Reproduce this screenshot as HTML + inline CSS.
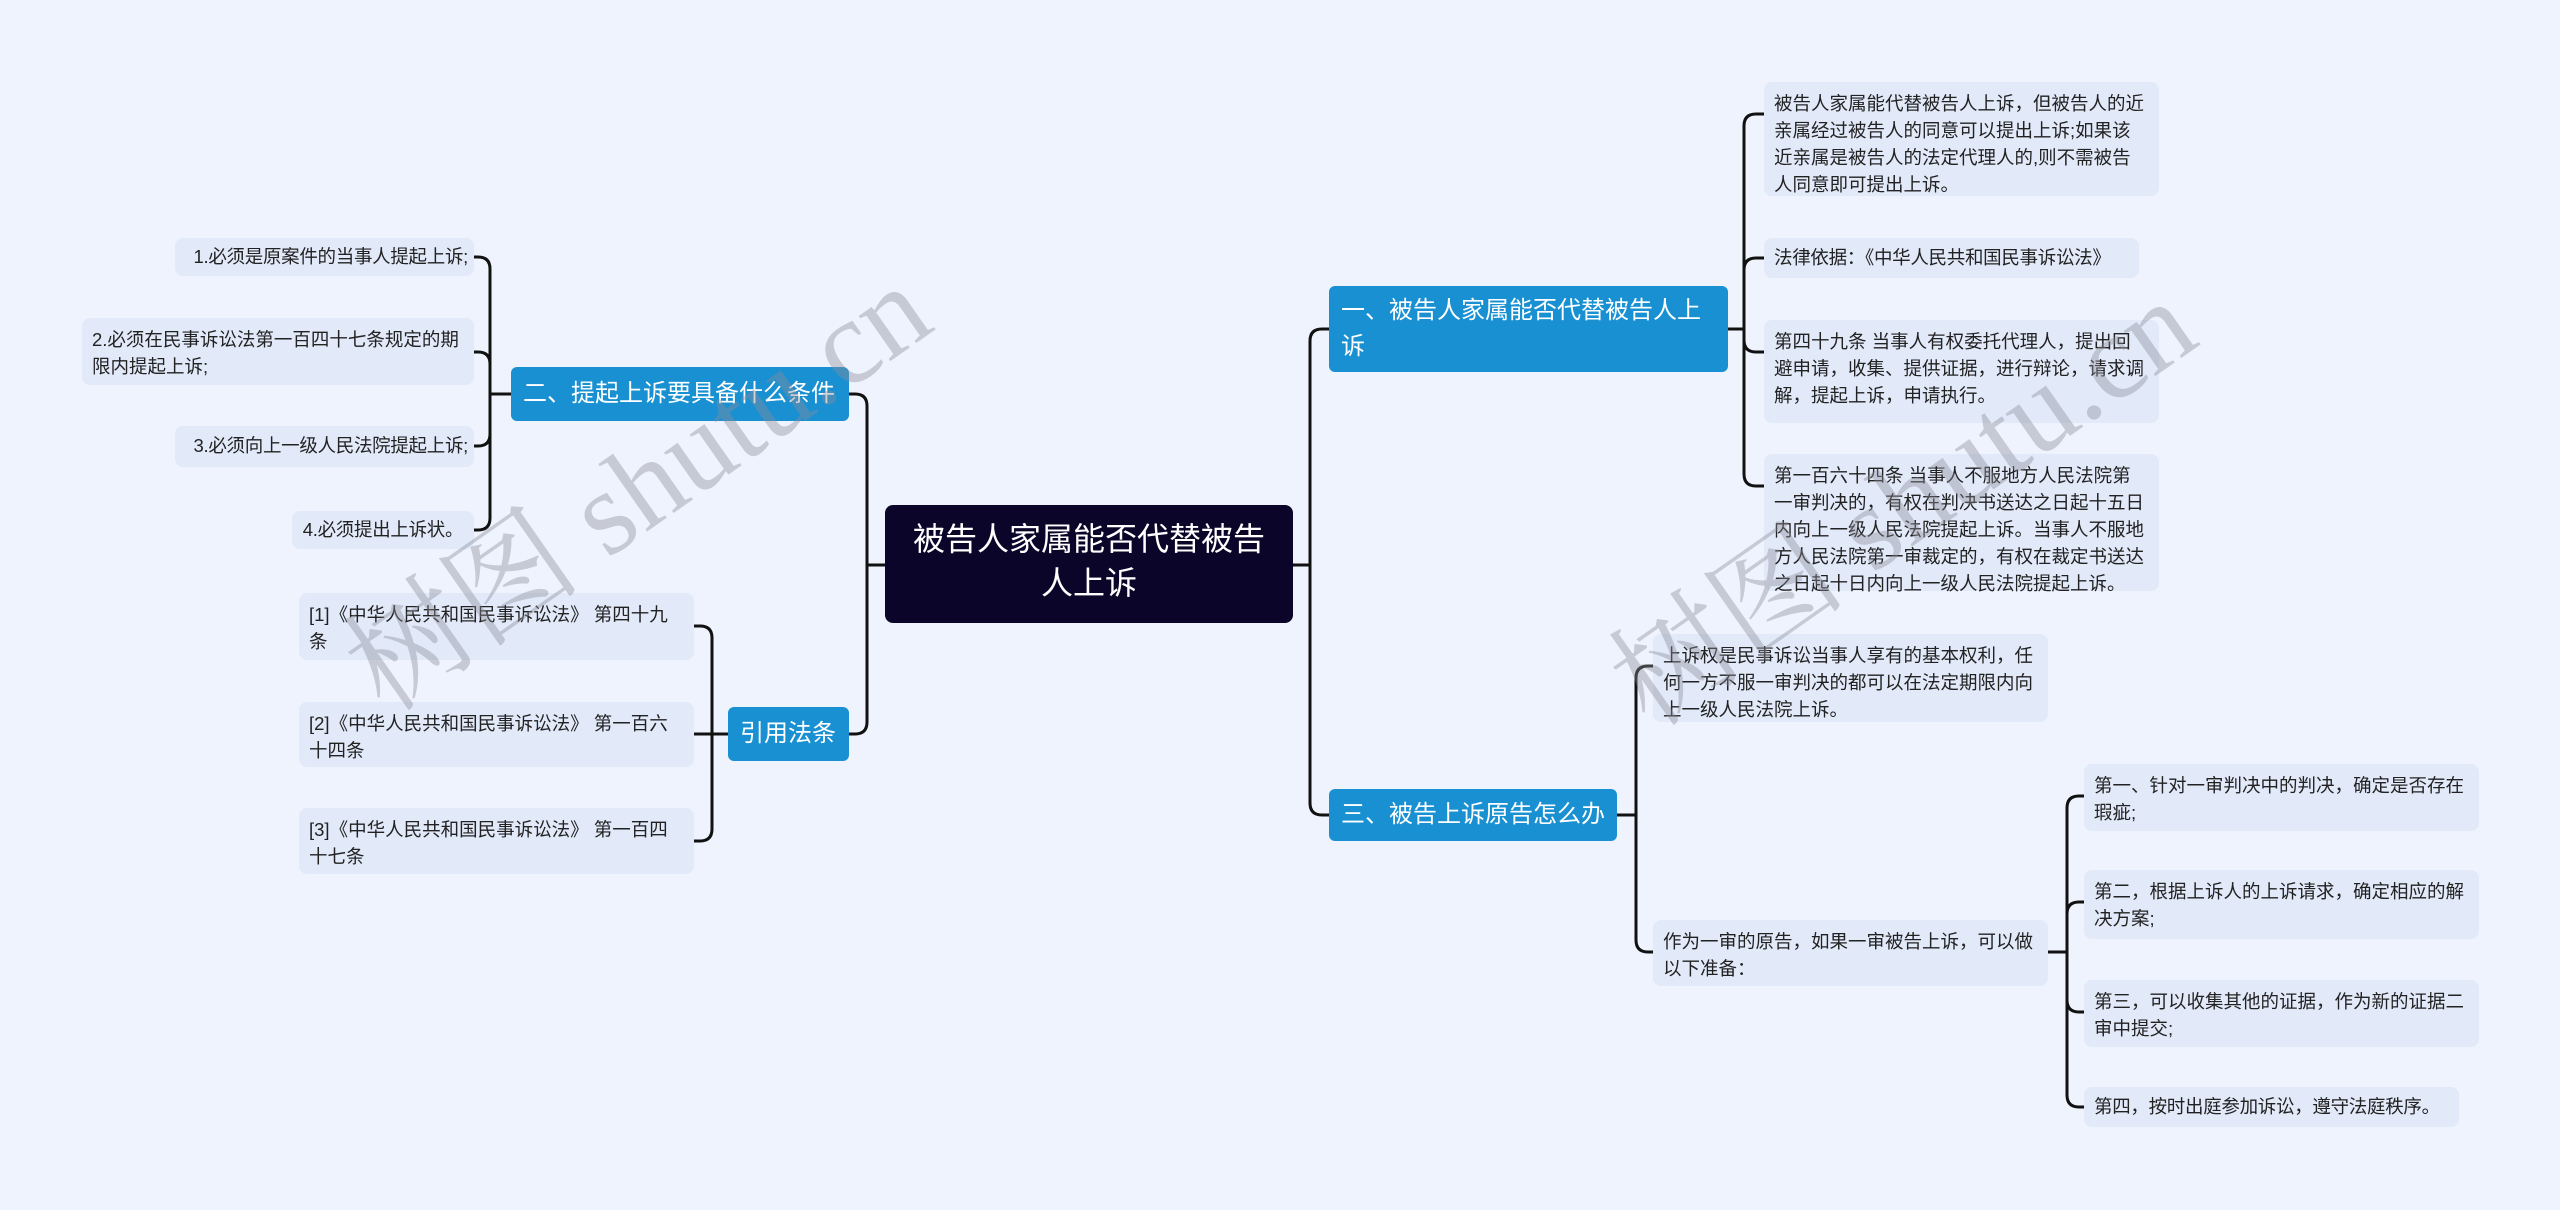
<!DOCTYPE html>
<html><head><meta charset="utf-8"><style>
body{margin:0;width:2560px;height:1210px;background:#eef3fd;position:relative;overflow:hidden;font-family:"Liberation Sans","Noto Sans CJK SC",sans-serif;}
.n{position:absolute;box-sizing:border-box;}
.leaf{background:#e2eafa;border-radius:8px;font-size:18.5px;line-height:27px;color:#222;padding:8px 10px;}
.nw{white-space:nowrap;padding-left:6px;padding-right:6px;letter-spacing:-0.3px;}
.main{background:#1990d2;border-radius:6px;color:#fff;font-size:24px;line-height:36px;padding:7px 12px;}
.root{background:#0b0629;border-radius:8px;color:#fff;font-size:32px;line-height:44px;text-align:center;padding:12px 20px;}
svg{position:absolute;left:0;top:0;}
.wm{position:absolute;font-size:120px;line-height:130px;color:rgba(140,140,150,0.4);font-family:"Liberation Serif","Noto Serif CJK SC",serif;transform:rotate(-35deg);white-space:nowrap;transform-origin:left bottom;}
</style></head><body>
<svg id="s" width="2560" height="1210"></svg>

<div class="n root" style="left:885px;top:505px;width:408px;height:118px;">被告人家属能否代替被告人上诉</div>

<div class="n main" style="left:511px;top:367px;width:338px;height:54px;line-height:40px;">二、提起上诉要具备什么条件</div>
<div class="n main" style="left:728px;top:707px;width:121px;height:54px;line-height:40px;">引用法条</div>
<div class="n main" style="left:1329px;top:286px;width:399px;height:86px;">一、被告人家属能否代替被告人上诉</div>
<div class="n main" style="left:1329px;top:789px;width:288px;height:52px;line-height:38px;">三、被告上诉原告怎么办</div>

<div class="n leaf nw" style="left:175px;top:238px;width:299px;height:38px;text-align:right;padding-top:5px;">1.必须是原案件的当事人提起上诉;</div>
<div class="n leaf" style="left:82px;top:318px;width:392px;height:67px;">2.必须在民事诉讼法第一百四十七条规定的期限内提起上诉;</div>
<div class="n leaf nw" style="left:175px;top:426px;width:299px;height:41px;text-align:right;padding-top:6px;">3.必须向上一级人民法院提起上诉;</div>
<div class="n leaf nw" style="left:292px;top:511px;width:182px;height:38px;padding-top:5px;text-align:center;">4.必须提出上诉状。</div>

<div class="n leaf" style="left:299px;top:593px;width:395px;height:67px;">[1]《中华人民共和国民事诉讼法》 第四十九条</div>
<div class="n leaf" style="left:299px;top:702px;width:395px;height:65px;">[2]《中华人民共和国民事诉讼法》 第一百六十四条</div>
<div class="n leaf" style="left:299px;top:808px;width:395px;height:66px;">[3]《中华人民共和国民事诉讼法》 第一百四十七条</div>

<div class="n leaf" style="left:1764px;top:82px;width:395px;height:114px;">被告人家属能代替被告人上诉，但被告人的近亲属经过被告人的同意可以提出上诉;如果该近亲属是被告人的法定代理人的,则不需被告人同意即可提出上诉。</div>
<div class="n leaf nw" style="left:1764px;top:238px;width:375px;height:40px;padding-top:6px;padding-left:10px;">法律依据：《中华人民共和国民事诉讼法》</div>
<div class="n leaf" style="left:1764px;top:320px;width:395px;height:103px;">第四十九条 当事人有权委托代理人，提出回避申请，收集、提供证据，进行辩论，请求调解，提起上诉，申请执行。</div>
<div class="n leaf" style="left:1764px;top:454px;width:395px;height:137px;">第一百六十四条 当事人不服地方人民法院第一审判决的，有权在判决书送达之日起十五日内向上一级人民法院提起上诉。当事人不服地方人民法院第一审裁定的，有权在裁定书送达之日起十日内向上一级人民法院提起上诉。</div>

<div class="n leaf" style="left:1653px;top:634px;width:395px;height:88px;">上诉权是民事诉讼当事人享有的基本权利，任何一方不服一审判决的都可以在法定期限内向上一级人民法院上诉。</div>
<div class="n leaf" style="left:1653px;top:920px;width:395px;height:66px;">作为一审的原告，如果一审被告上诉，可以做以下准备：</div>

<div class="n leaf" style="left:2084px;top:764px;width:395px;height:67px;">第一、针对一审判决中的判决，确定是否存在瑕疵;</div>
<div class="n leaf" style="left:2084px;top:870px;width:395px;height:69px;">第二，根据上诉人的上诉请求，确定相应的解决方案;</div>
<div class="n leaf" style="left:2084px;top:980px;width:395px;height:67px;">第三，可以收集其他的证据，作为新的证据二审中提交;</div>
<div class="n leaf nw" style="left:2084px;top:1087px;width:375px;height:40px;padding-top:6px;padding-left:10px;">第四，按时出庭参加诉讼，遵守法庭秩序。</div>

<div class="wm" style="left:400px;top:605px;">树图 shutu.cn</div>
<div class="wm" style="left:1665px;top:620px;">树图 shutu.cn</div>

<script>
var s=document.getElementById('s'),P='';
function br(px,py,bx,kids){
 P+='M'+px+' '+py+'H'+bx;
 kids.forEach(function(k){
  var cx=k[0],cy=k[1],dir=cx>bx?1:-1,r=12;
  if(Math.abs(cy-py)<r+1){P+='M'+bx+' '+py+'V'+cy+'H'+cx;return;}
  var sy=cy>py?1:-1;
  P+='M'+bx+' '+py+'V'+(cy-sy*r)+'Q'+bx+' '+cy+' '+(bx+dir*r)+' '+cy+'H'+cx;
 });
}
br(1293,565,1310,[[1329,329],[1329,815]]);
br(885,565,867,[[849,394],[849,734]]);
br(511,394,490,[[474,257],[474,352],[474,446],[474,530]]);
br(728,734,712,[[694,626],[694,734],[694,841]]);
br(1728,329,1744,[[1764,114],[1764,258],[1764,352],[1764,486]]);
br(1617,815,1636,[[1653,666],[1653,952]]);
br(2048,952,2067,[[2084,796],[2084,902],[2084,1012],[2084,1107]]);
s.innerHTML='<path d="'+P+'" fill="none" stroke="#111" stroke-width="3"/>';
</script>
</body></html>
